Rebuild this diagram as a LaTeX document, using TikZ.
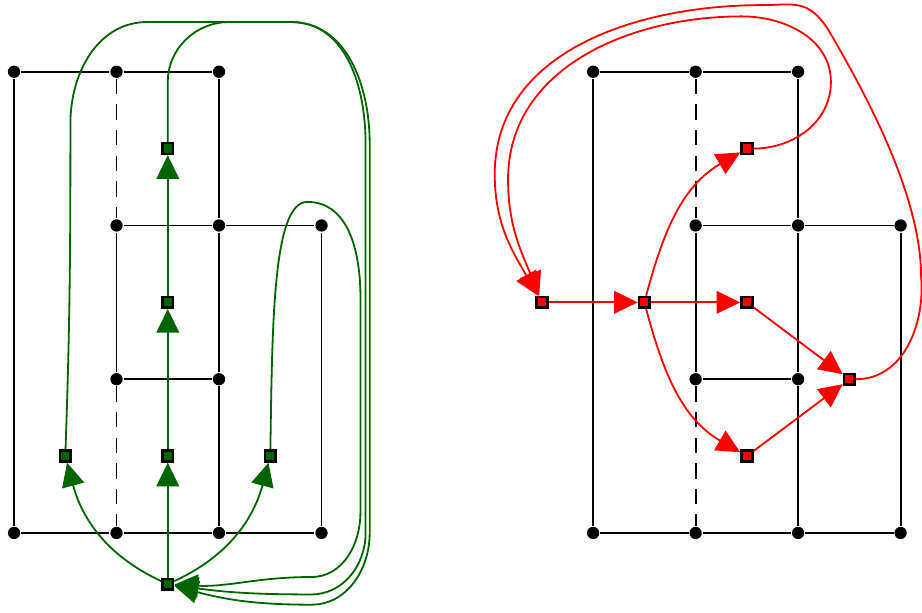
\documentclass[tikz,border=0pt]{standalone}
\usetikzlibrary{arrows.meta}
\definecolor{dgreen}{RGB}{0,100,0}
\begin{document}
\begin{tikzpicture}[>={Triangle[length=2.3mm,width=2.2mm]},line width=0.5pt,
  dot/.style={circle,fill=black,inner sep=0pt,minimum size=1.2mm},
  gsq/.style={rectangle,draw=black,fill=dgreen,line width=0.7pt,inner sep=0pt,minimum size=1.05mm},
  rsq/.style={gsq,fill=red},
  gedge/.style={dgreen,->},
  redge/.style={red,->},
  cutline/.style={dash pattern=on 1.5mm off 1mm}]
\useasboundingbox (-0.137,-0.78) rectangle (8.859,5.2);

% left grid
\node[dot] (la1) at (0,4.5) {};
\node[dot] (la2) at (1,4.5) {};
\node[dot] (la3) at (2,4.5) {};
\node[dot] (lb2) at (1,3) {};
\node[dot] (lb3) at (2,3) {};
\node[dot] (lb4) at (3,3) {};
\node[dot] (lc2) at (1,1.5) {};
\node[dot] (lc3) at (2,1.5) {};
\node[dot] (ld1) at (0,0) {};
\node[dot] (ld2) at (1,0) {};
\node[dot] (ld3) at (2,0) {};
\node[dot] (ld4) at (3,0) {};

\draw (la1) -- (la2) -- (la3);
\draw (la1) -- (ld1);
\draw (la3) -- (lb3) -- (lc3) -- (ld3);
\draw (ld1) -- (ld2) -- (ld3) -- (ld4);
\draw (lb2) -- (lb3) -- (lb4) -- (ld4);
\draw (lb2) -- (lc2) -- (lc3);
\draw[cutline] (la2) -- (lb2);
\draw[cutline] (lc2) -- (ld2);

% right grid
\node[dot] (ra1) at (5.65,4.5) {};
\node[dot] (ra2) at (6.65,4.5) {};
\node[dot] (ra3) at (7.65,4.5) {};
\node[dot] (rb2) at (6.65,3) {};
\node[dot] (rb3) at (7.65,3) {};
\node[dot] (rb4) at (8.65,3) {};
\node[dot] (rc2) at (6.65,1.5) {};
\node[dot] (rc3) at (7.65,1.5) {};
\node[dot] (rd1) at (5.65,0) {};
\node[dot] (rd2) at (6.65,0) {};
\node[dot] (rd3) at (7.65,0) {};
\node[dot] (rd4) at (8.65,0) {};

\draw (ra1) -- (ra2) -- (ra3);
\draw (ra1) -- (rd1);
\draw (ra3) -- (rb3) -- (rc3) -- (rd3);
\draw (rd1) -- (rd2) -- (rd3) -- (rd4);
\draw (rb2) -- (rb3) -- (rb4) -- (rd4);
\draw (rb2) -- (rc2) -- (rc3);
\draw[cutline] (ra2) -- (rb2);
\draw[cutline] (rc2) -- (rd2);

% green flow
\node[gsq] (g0) at (1.5,-0.5) {};
\node[gsq] (g1) at (0.5,0.75) {};
\node[gsq] (g2) at (1.5,0.75) {};
\node[gsq] (g3) at (1.5,3.75) {};
\node[gsq] (g4) at (1.5,2.25) {};
\node[gsq] (g5) at (2.5,0.75) {};

\draw[gedge] (g0) -- (g2);
\draw[gedge] (g2) -- (g4);
\draw[gedge] (g4) -- (g3);
\draw[gedge] (g0) to[out=155,in=-75] (g1);
\draw[gedge] (g0) to[out=25,in=-105] (g5);
\draw[gedge] (g1) to[out=88,in=-90] (0.55,4.0) to[out=90,in=180] (1.3,4.985) -- (2.7,4.985)
  to[out=0,in=90] (3.47,3.8) -- (3.47,0) to[out=-90,in=0] (2.9,-0.7) to[out=180,in=-15] (g0);
\draw[gedge] (g3) -- (1.5,4.4) to[out=90,in=180] (2.1,4.985) -- (2.7,4.985)
  to[out=0,in=90] (3.43,3.8) -- (3.43,0) to[out=-90,in=0] (2.9,-0.6) to[out=180,in=-8] (g0);
\draw[gedge] (g5) .. controls (2.52,2.0) and (2.52,3.23) .. (2.86,3.23)
  to[out=0,in=90] (3.38,2.3) -- (3.38,0.2) to[out=-90,in=0] (2.9,-0.43) to[out=180,in=-3] (g0);

% red flow
\node[rsq] (r0) at (5.15,2.25) {};
\node[rsq] (r1) at (6.15,2.25) {};
\node[rsq] (r2) at (7.15,2.25) {};
\node[rsq] (r3) at (7.15,3.75) {};
\node[rsq] (r4) at (7.15,0.75) {};
\node[rsq] (r5) at (8.15,1.5) {};

\draw[redge] (r0) -- (r1);
\draw[redge] (r1) -- (r2);
\draw[redge] (r1) to[out=75,in=-150] (r3);
\draw[redge] (r1) to[out=-75,in=150] (r4);
\draw[redge] (r2) -- (r5);
\draw[redge] (r4) -- (r5);
\draw[redge] (r3) to[out=0,in=-90] (7.97,4.4) to[out=90,in=0] (7.1,5.04)
  to[out=180,in=90] (4.82,3.45) to[out=-90,in=112] (r0);
\draw[redge] (r5) to[out=0,in=-85] (8.85,2.5) .. controls (8.85,3.3) and (8.3,4.3) .. (7.95,4.9)
  .. controls (7.75,5.22) and (7.6,5.15) .. (7.3,5.15) to[out=180,in=90] (4.69,3.5)
  to[out=-90,in=120] (r0);
\end{tikzpicture}
\end{document}
